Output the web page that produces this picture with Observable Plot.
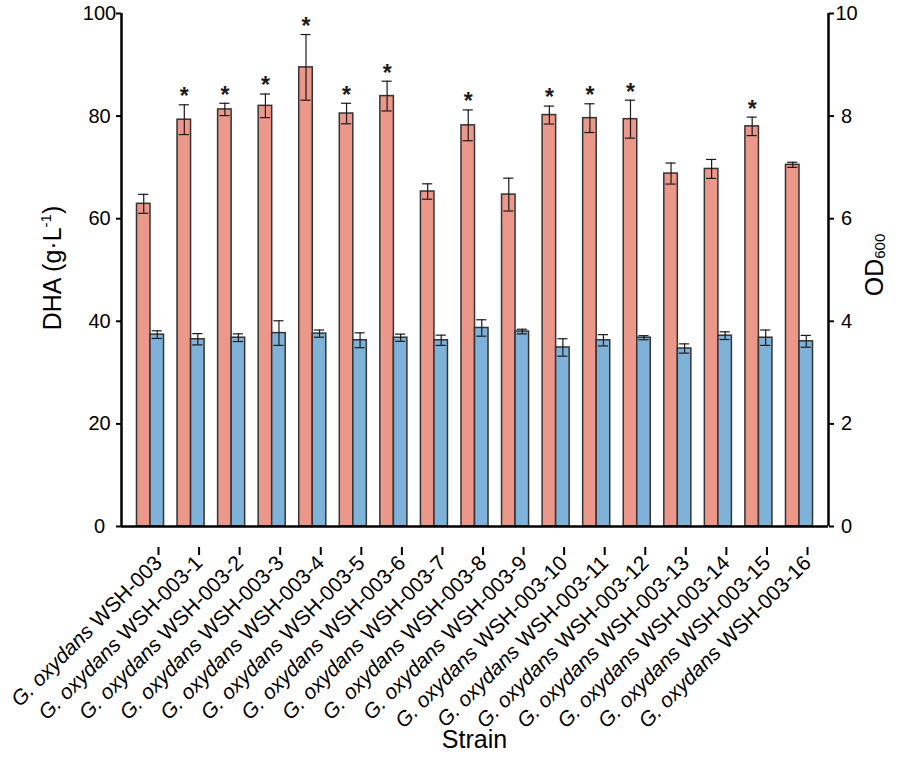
<!DOCTYPE html>
<html><head><meta charset="utf-8">
<script src="https://cdn.jsdelivr.net/npm/d3@7"></script>
<script src="https://cdn.jsdelivr.net/npm/@observablehq/plot@0.6"></script>
<style>
body{margin:0;background:#fff}
svg{font-family:"Liberation Sans",Arial,sans-serif}
</style>
</head><body><div id="chart"></div>
<script>
const species = "G. oxydans";
const strains = ["WSH-003","WSH-003-1","WSH-003-2","WSH-003-3","WSH-003-4","WSH-003-5","WSH-003-6","WSH-003-7","WSH-003-8","WSH-003-9","WSH-003-10","WSH-003-11","WSH-003-12","WSH-003-13","WSH-003-14","WSH-003-15","WSH-003-16"];
const dha    = [62.9, 79.3, 81.3, 82.0, 89.5, 80.5, 83.9, 65.3, 78.2, 64.7, 80.2, 79.6, 79.4, 68.8, 69.7, 78.0, 70.5];
const dhaErr = [1.85, 2.9, 1.2, 2.3, 6.4, 2.0, 2.9, 1.5, 3.0, 3.2, 1.75, 2.8, 3.7, 2.05, 1.85, 1.8, 0.5];
const od     = [3.74, 3.65, 3.68, 3.77, 3.76, 3.63, 3.68, 3.63, 3.87, 3.80, 3.49, 3.63, 3.68, 3.47, 3.72, 3.68, 3.61];
const odErr  = [0.075, 0.11, 0.075, 0.24, 0.07, 0.145, 0.07, 0.1, 0.16, 0.045, 0.17, 0.11, 0.04, 0.09, 0.075, 0.15, 0.115];
const significant = [false,true,true,true,true,true,true,false,true,false,true,true,true,false,false,true,false];
const dhaTicks = [0, 20, 40, 60, 80, 100];
const odTicks = [0, 2, 4, 6, 8, 10];
const odToDha = 10; // right axis maps 0–10 onto left 0–100

const rows = strains.map((s, i) => ({
  i, strain: s,
  dha: dha[i], dhaErr: dhaErr[i],
  od: od[i] * odToDha, odErr: odErr[i] * odToDha,
  sig: significant[i]
}));

const barW = 1/3;   // bar width in category units
const capW = 0.125; // half cap width in category units
const xDom = [-0.715, 16.715];
const ink = "#1a1a1a";
const edge = "#333333";

function errorMarks(val, err, center) {
  return [
    Plot.ruleX(rows, {x: center, y1: d => d[val] - d[err], y2: d => d[val] + d[err], stroke: ink, strokeWidth: 1.2}),
    Plot.ruleY(rows, {y: d => d[val] + d[err], x1: d => center(d) - capW, x2: d => center(d) + capW, stroke: ink, strokeWidth: 1.2}),
    Plot.ruleY(rows, {y: d => d[val] - d[err], x1: d => center(d) - capW, x2: d => center(d) + capW, stroke: ink, strokeWidth: 1.2})
  ];
}

const chart = Plot.plot({
  width: 898, height: 757,
  marginTop: 13, marginBottom: 231, marginLeft: 121, marginRight: 70,
  style: {fontFamily: '"Liberation Sans", Arial, sans-serif', fontSize: "20px", color: "#000", background: "#fff"},
  x: {type: "linear", domain: xDom},
  y: {domain: [0, 100]},
  marks: [
    Plot.rectY(rows, {x1: d => d.i - barW, x2: d => d.i, y: "dha", fill: "#EB978A", stroke: edge, strokeWidth: 1.5}),
    Plot.rectY(rows, {x1: d => d.i, x2: d => d.i + barW, y: "od", fill: "#7FB2D8", stroke: edge, strokeWidth: 1.5}),
    ...errorMarks("dha", "dhaErr", d => d.i - barW / 2),
    ...errorMarks("od", "odErr", d => d.i + barW / 2),
    Plot.text(rows.filter(d => d.sig), {x: d => d.i - barW / 2, y: d => d.dha + d.dhaErr, text: () => "*", fontSize: 23, fontWeight: "bold", fill: ink, dy: -8}),
    Plot.ruleX(xDom, {y1: 0, y2: 100, stroke: "#000", strokeWidth: 2.5}),
    Plot.ruleY([0], {x1: xDom[0], x2: xDom[1], stroke: "#000", strokeWidth: 2.5}),
    Plot.axisY({ticks: dhaTicks, tickSize: 5, tickPadding: 17, textAnchor: "middle", fontSize: 20, label: null, strokeWidth: 2}),
    Plot.axisY({anchor: "right", ticks: dhaTicks, tickFormat: d => d / odToDha, tickSize: 5, tickPadding: 13, textAnchor: "middle", fontSize: 20, label: null, strokeWidth: 2}),
    Plot.axisX({ticks: strains.map((_, i) => i), tickSize: 8, tickRotate: -45, tickPadding: 4, dx: 8, dy: 21, fontSize: 21, label: null, strokeWidth: 2,
      tickFormat: i => species + " " + strains[i]})
  ]
});

document.getElementById("chart").appendChild(chart);

// species name in italics
const svg = d3.select(chart);
svg.selectAll('g[aria-label="x-axis tick label"] text').each(function() {
  const t = d3.select(this);
  const full = t.text();
  const rest = full.slice(species.length);
  t.text(null);
  t.append("tspan").attr("font-style", "italic").text(species);
  t.append("tspan").text(rest);
});

// axis titles
const yTitle = svg.append("text").attr("transform", "translate(61,268) rotate(-90)")
  .attr("text-anchor", "middle").attr("font-size", 25).attr("fill", "#000");
yTitle.append("tspan").text("DHA (g·L");
yTitle.append("tspan").attr("font-size", 15).attr("dy", -10).text("-1");
yTitle.append("tspan").attr("dy", 10).text(")");

const y2Title = svg.append("text").attr("transform", "translate(883,265) rotate(-90)")
  .attr("text-anchor", "middle").attr("font-size", 25).attr("fill", "#000");
y2Title.append("tspan").text("OD");
y2Title.append("tspan").attr("font-size", 15).attr("dy", 2).text("600");

svg.append("text").attr("x", 474.5).attr("y", 748).attr("text-anchor", "middle")
  .attr("font-size", 25).attr("fill", "#000").text("Strain");
</script>
</body></html>
